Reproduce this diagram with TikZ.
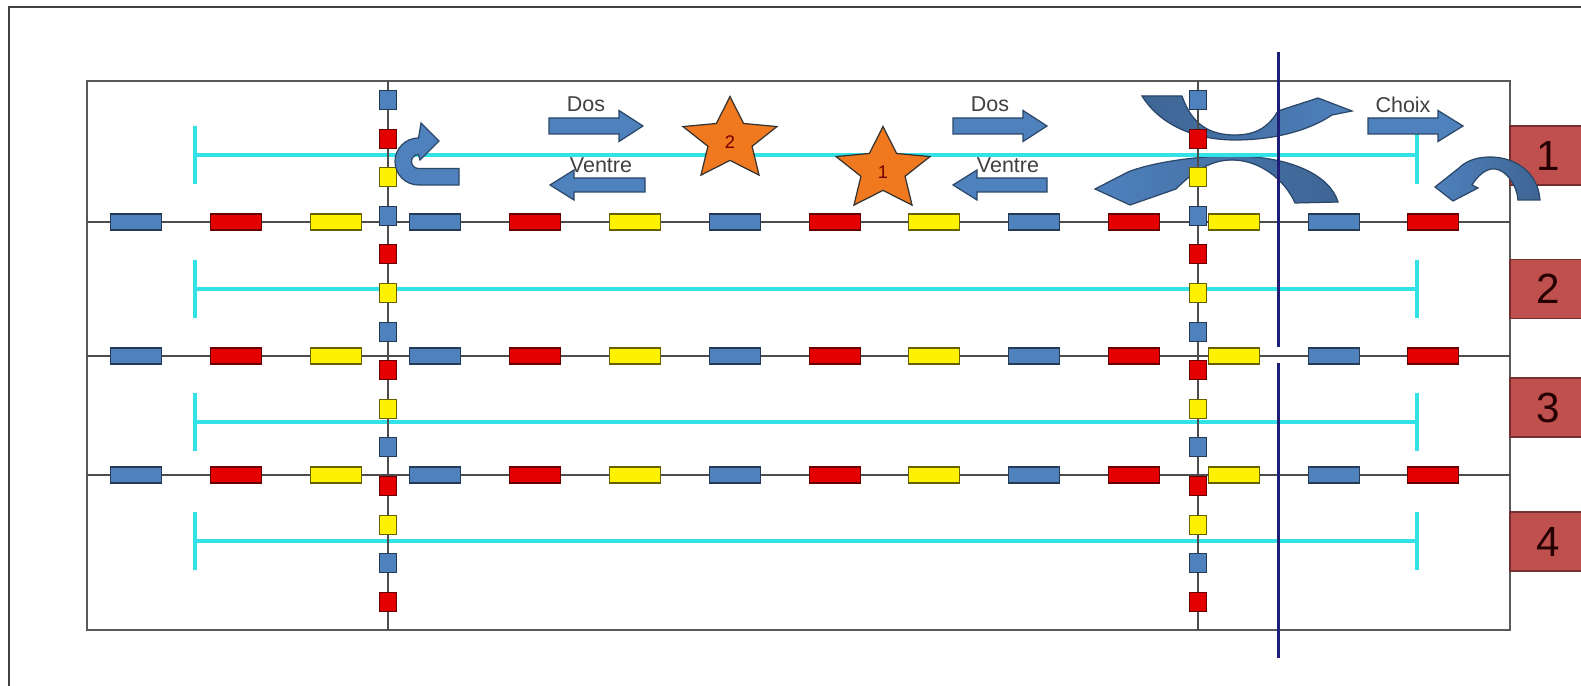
\documentclass[tikz,border=0pt]{standalone}
\usepackage{fontspec}
\setmainfont{Liberation Sans}
\usepackage{xcolor}
\definecolor{flotbleu}{RGB}{79,129,189}
\definecolor{flotrouge}{RGB}{228,0,0}
\definecolor{flotjaune}{RGB}{255,242,0}
\definecolor{cyanligne}{RGB}{51,226,230}
\definecolor{marine}{RGB}{30,30,120}
\definecolor{orangeet}{RGB}{240,120,30}
\definecolor{rougecaisse}{RGB}{192,80,77}
\def\flotteurs{0/fbleu,1/frouge,2/fjaune,3/fbleu,4/frouge,5/fjaune,6/fbleu,7/frouge,8/fjaune,9/fbleu,10/frouge,11/fjaune,12/fbleu,13/frouge}

\begin{document}
\begin{tikzpicture}[x=0.01cm,y=-0.01cm,
	cadre/.style={draw=black!75,line width=0.7pt},
	bassin/.style={draw=black!65,line width=0.45pt},
	ligne/.style={draw=black!70,line width=0.45pt},
	couloir/.style={draw=cyanligne,line width=1.4pt},
	fbleu/.style={fill=flotbleu,draw=flotbleu!45!black,line width=0.3pt},
	frouge/.style={fill=flotrouge,draw=flotrouge!45!black,line width=0.3pt},
	fjaune/.style={fill=flotjaune,draw=flotjaune!40!black,line width=0.3pt},
	fleche/.style={fill=flotbleu,draw=flotbleu!55!black,line width=0.35pt},
	etoile/.style={fill=orangeet,draw=black!80,line width=0.35pt},
	etiquette/.style={inner sep=0,text=black!75,font=\fontsize{6.1}{7}\selectfont},
	numero/.style={inner sep=0,text=red!45!black,font=\fontsize{5.2}{6}\selectfont},
	caisse/.style={fill=rougecaisse,draw=rougecaisse!60!black,line width=0.4pt,minimum width=0.76cm,minimum height=0.59cm,inner sep=0,text=black!85!red,font=\fontsize{12}{14}\selectfont}]
	\useasboundingbox (0,0) rectangle (1581,686);
	\clip (0,0) rectangle (1581,686);
	\draw[cadre] (9,700) -- (9,7) -- (1600,7);
	\draw[bassin] (87,81) rectangle (1510,630);
	\draw[fleche,left color=flotbleu!78!black,right color=flotbleu] (1142,96) -- (1182,96) .. controls (1192,125) and (1210,135) .. (1235,135) .. controls (1255,135) and (1268,128) .. (1278,111) -- (1318,98) -- (1352,111) -- (1332,115) .. controls (1310,130) and (1275,140) .. (1235,140) .. controls (1195,140) and (1160,125) .. cycle;
	\draw[fleche,left color=flotbleu,right color=flotbleu!78!black] (1295,203) -- (1338,202) .. controls (1330,175) and (1290,156) .. (1232,156) .. controls (1195,156) and (1150,163) .. (1128,172) -- (1095,189) -- (1130,205) -- (1176,189) .. controls (1195,170) and (1212,160) .. (1232,160) .. controls (1260,160) and (1285,180) .. cycle;
	\foreach \y in {155,289,422,541}
		\draw[couloir] (195,\y) -- (1417,\y) (195,{\y-29}) -- (195,{\y+29}) (1417,{\y-29}) -- (1417,{\y+29});
	\foreach \y in {222,356,475}
		\draw[ligne] (87,\y) -- (1510,\y);
	\draw[ligne,line width=0.55pt] (388,81) -- (388,630) (1198,81) -- (1198,630);
	\foreach \y in {222,356,475}
		\foreach \i/\f in \flotteurs
			\filldraw[\f] ({110.5+99.8*\i},{\y-8}) rectangle ++(51,16);
	\foreach \x in {388,1198}
		\foreach \i/\f in \flotteurs
			\filldraw[\f] ({\x-8.5},{90.5+38.6*\i}) rectangle ++(17,19);
	\draw[fleche] (459,168.5) -- (418.5,168.5) .. controls (414.6,168.5) and (411.5,165.4) .. (411.5,161.5) .. controls (411.5,157.6) and (414.6,154.5) .. (418.5,154.5) -- (420,160) -- (439,141) -- (421,123) -- (418.5,138) .. controls (405.5,138) and (395,148.5) .. (395,161.5) .. controls (395,174.5) and (405.5,185) .. (418.5,185) -- (459,185) -- cycle;
	\begin{scope}[shift={(730,140)},xscale=49.4,yscale=43.4]
		\filldraw[etoile] (-90:1) -- (-54:0.47) -- (-18:1) -- (18:0.47) -- (54:1) -- (90:0.47) -- (126:1) -- (162:0.47) -- (198:1) -- (234:0.47) -- cycle;
	\end{scope}
	\begin{scope}[shift={(883,170)},xscale=49.4,yscale=43.4]
		\filldraw[etoile] (-90:1) -- (-54:0.47) -- (-18:1) -- (18:0.47) -- (54:1) -- (90:0.47) -- (126:1) -- (162:0.47) -- (198:1) -- (234:0.47) -- cycle;
	\end{scope}
	\node[numero] (et2) at (730,142) {2};
	\node[numero] (et1) at (883,172) {1};
	\draw[fleche] (549,118) -- (619,118) -- (619,110.5) -- (643,126) -- (619,141.5) -- (619,134) -- (549,134) -- cycle;
	\draw[fleche] (645,178) -- (574,178) -- (574,170) -- (550,185) -- (574,200) -- (574,192) -- (645,192) -- cycle;
	\draw[fleche] (953,118) -- (1023,118) -- (1023,110.5) -- (1047,126) -- (1023,141.5) -- (1023,134) -- (953,134) -- cycle;
	\draw[fleche] (1047,178) -- (977,178) -- (977,170) -- (953,185) -- (977,200) -- (977,192) -- (1047,192) -- cycle;
	\draw[fleche] (1368,118) -- (1438,118) -- (1438,110.5) -- (1463,126) -- (1438,141.5) -- (1438,134) -- (1368,134) -- cycle;
	\node[etiquette] (dos1) at (586,104) {Dos};
	\node[etiquette] (ventre1) at (601,165) {Ventre};
	\node[etiquette] (dos2) at (990,104) {Dos};
	\node[etiquette] (ventre2) at (1008,165) {Ventre};
	\node[etiquette] (choix) at (1403,105) {Choix};
	\draw[marine,line width=0.85pt] (1278,52) -- (1278,347) (1278,363) -- (1278,658);
	\node[caisse] (c1) at (1548,155.5) {1};
	\node[caisse] (c2) at (1548,289) {2};
	\node[caisse] (c3) at (1548,407.5) {3};
	\node[caisse] (c4) at (1548,541.5) {4};
	\draw[fleche,left color=flotbleu,right color=flotbleu!78!black] (1540,200) .. controls (1538,172) and (1515,157) .. (1490,157) .. controls (1475,157) and (1465,162) .. (1459,168) -- (1435,187) -- (1453,201) -- (1478,188) -- (1472,185) .. controls (1478,175) and (1487,168) .. (1495,169) .. controls (1506,170) and (1517,185) .. (1518,200) -- cycle;
\end{tikzpicture}
\end{document}
